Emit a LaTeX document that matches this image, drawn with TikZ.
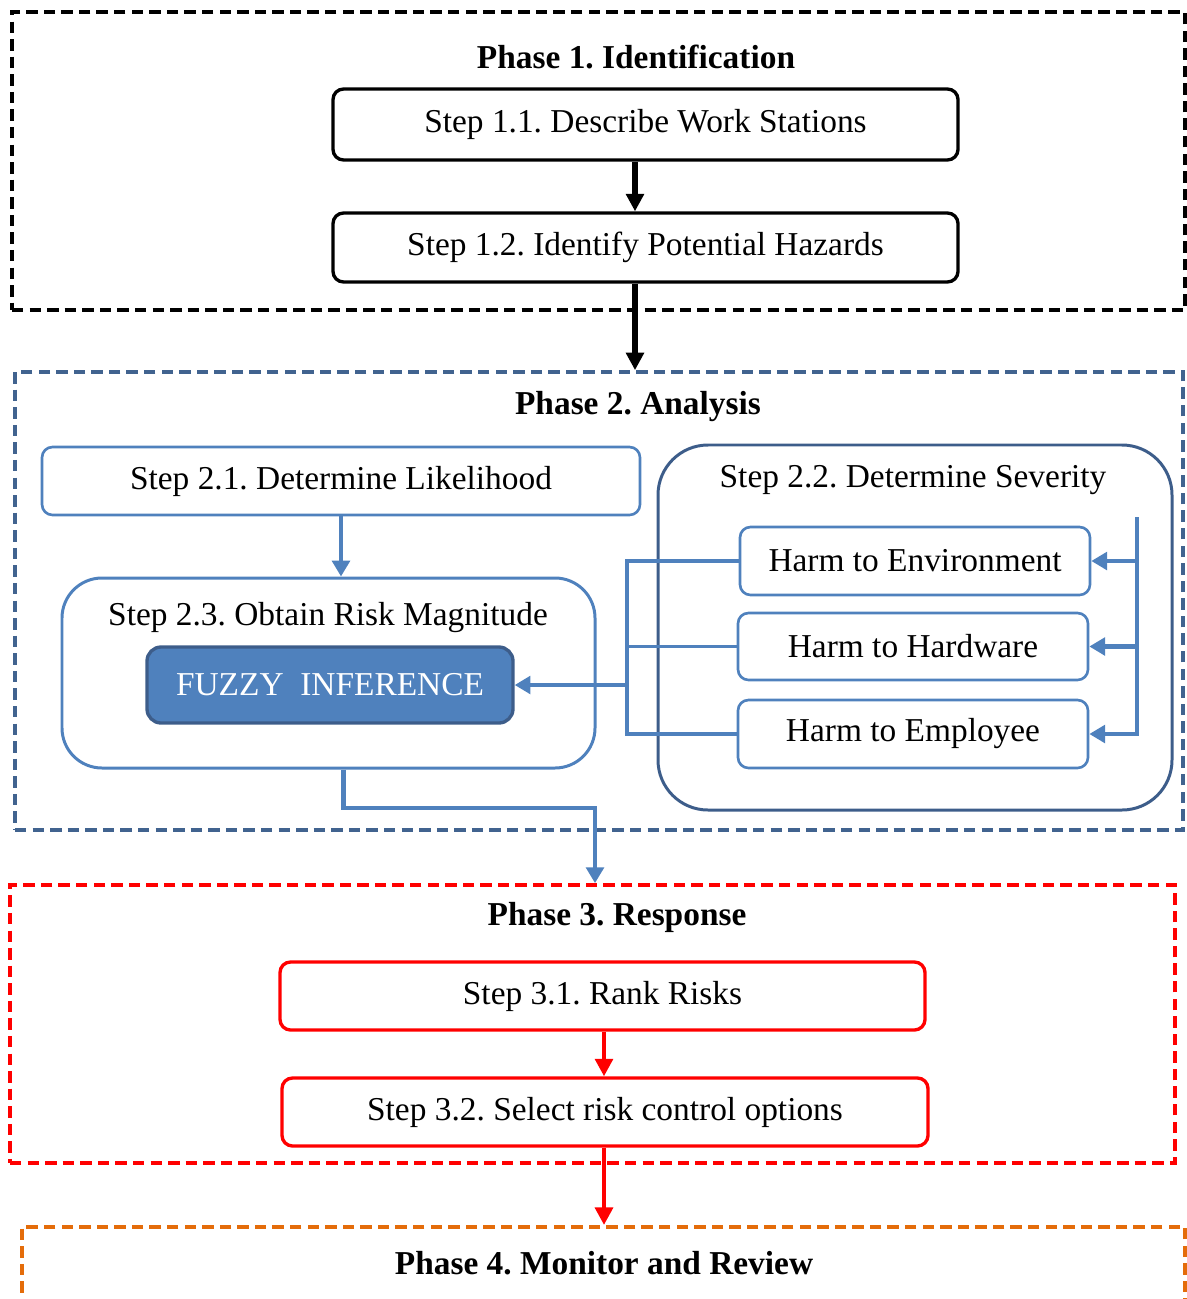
\documentclass[tikz,border=0pt]{standalone}
\usepackage{fontspec}
\setmainfont{Liberation Serif}
\usepackage{xcolor}
\usetikzlibrary{positioning, arrows.meta}
\frenchspacing

\definecolor{phblue}{HTML}{41638F}
\definecolor{stblue}{HTML}{4F81BD}
\definecolor{dkblue}{HTML}{3D5D8A}
\definecolor{phorange}{HTML}{E46C0A}

\begin{document}
\begin{tikzpicture}[
  phase/.style={rectangle, draw=#1, dash pattern=on 6.5pt off 3.5pt, line width=2.1pt},
  title/.style={font=\fontsize{19}{22}\selectfont\bfseries},
  label/.style={font=\fontsize{19}{22}\selectfont},
  stepbox/.style={rectangle, draw=#1, rounded corners=6pt, line width=1.9pt, fill=white, font=\fontsize{19}{22}\selectfont, minimum height=1.36cm},
  bigbox/.style={rectangle, draw=#1, line width=1.7pt, rounded corners=1cm},
  blkarrow/.style={-{Triangle[length=10pt,width=10pt]}, line width=3pt},
  bluearrow/.style={draw=stblue, -{Triangle[length=9pt,width=10pt]}, line width=2.6pt},
  blueline/.style={draw=stblue, line width=2.2pt},
  redarrow/.style={draw=red, -{Triangle[length=10pt,width=10pt]}, line width=2.8pt}
]
  \clip (0,0) rectangle (23.74,-25.98);

  \node[phase=black, minimum width=23.46cm, minimum height=5.96cm] (p1) at (11.97,-3.22) {};
  \node[title] (t1) at (12.72,-1.14) {Phase 1. Identification};
  \node[stepbox=black, minimum width=12.5cm, minimum height=1.42cm] (s11) at (12.91,-2.49) {Step 1.1. Describe Work Stations};
  \node[stepbox=black, minimum width=12.5cm, minimum height=1.38cm] (s12) at (12.91,-4.95) {Step 1.2. Identify Potential Hazards};

  \node[phase=phblue, minimum width=23.36cm, minimum height=9.16cm] (p2) at (11.98,-12.02) {};
  \node[title] (t2) at (12.76,-8.14) {Phase 2. Analysis};
  \node[stepbox=stblue, minimum width=11.96cm, line width=1.5pt] (s21) at (6.82,-9.62) {Step 2.1. Determine Likelihood};
  \node[bigbox=dkblue, minimum width=10.28cm, minimum height=7.30cm] (s22) at (18.30,-12.55) {};
  \node[label] (t22) at (18.26,-9.60) {Step 2.2. Determine Severity};
  \node[stepbox=stblue, minimum width=7cm, line width=1.5pt] (h1) at (18.30,-11.22) {Harm to Environment};
  \node[stepbox=stblue, minimum width=7cm, minimum height=1.34cm, line width=1.5pt] (h2) at (18.26,-12.93) {Harm to Hardware};
  \node[stepbox=stblue, minimum width=7cm, line width=1.5pt] (h3) at (18.26,-14.68) {Harm to Employee};
  \node[bigbox=stblue, minimum width=10.66cm, minimum height=3.80cm, rounded corners=0.8cm] (s23) at (6.57,-13.46) {};
  \node[label] (t23) at (6.56,-12.36) {Step 2.3. Obtain Risk Magnitude};
  \node[stepbox=dkblue, fill=stblue, text=white, minimum width=7.32cm, minimum height=1.52cm, rounded corners=8pt] (fz) at (6.60,-13.70) {FUZZY\ \ INFERENCE};

  \node[phase=red, minimum width=23.30cm, minimum height=5.56cm] (p3) at (11.85,-20.48) {};
  \node[title] (t3) at (12.34,-18.34) {Phase 3. Response};
  \node[stepbox=red, minimum width=12.9cm] (s31) at (12.05,-19.92) {Step 3.1. Rank Risks};
  \node[stepbox=red, minimum width=12.92cm] (s32) at (12.10,-22.24) {Step 3.2. Select risk control options};

  \node[phase=phorange, minimum width=23.26cm, minimum height=3cm, anchor=north] (p4) at (12.07,-24.5) {};
  \node[title] (t4) at (12.08,-25.26) {Phase 4. Monitor and Review};

  \coordinate (jn) at (12.54,-13.70);
  \coordinate (bt) at (22.74,-10.34);
  \coordinate (bend) at (11.90,-16.16);
  \coordinate (ax1) at (12.70,0);
  \coordinate (ax3) at (12.08,0);

  \draw[blkarrow] (s11.south -| ax1) -- (s12.north -| ax1);
  \draw[blkarrow] (s12.south -| ax1) -- (p2.north -| ax1);

  \draw[bluearrow] (s21) -- (s21 |- s23.north);
  \draw[blueline] (h1.west) -| (jn);
  \draw[blueline] (h2.west) -| (jn);
  \draw[blueline] (h3.west) -| (jn);
  \draw[bluearrow] (jn) -- (fz.east);
  \draw[bluearrow] (bt) |- (h3.east);
  \draw[bluearrow] (bt |- h1.east) -- (h1.east);
  \draw[bluearrow] (bt |- h2.east) -- (h2.east);
  \draw[bluearrow] ([xshift=0.3cm]s23.south) |- (bend) -- (bend |- p3.north);

  \draw[redarrow] (s31.south -| ax3) -- (s32.north -| ax3);
  \draw[redarrow] (s32.south -| ax3) -- (p4.north -| ax3);
\end{tikzpicture}
\end{document}
